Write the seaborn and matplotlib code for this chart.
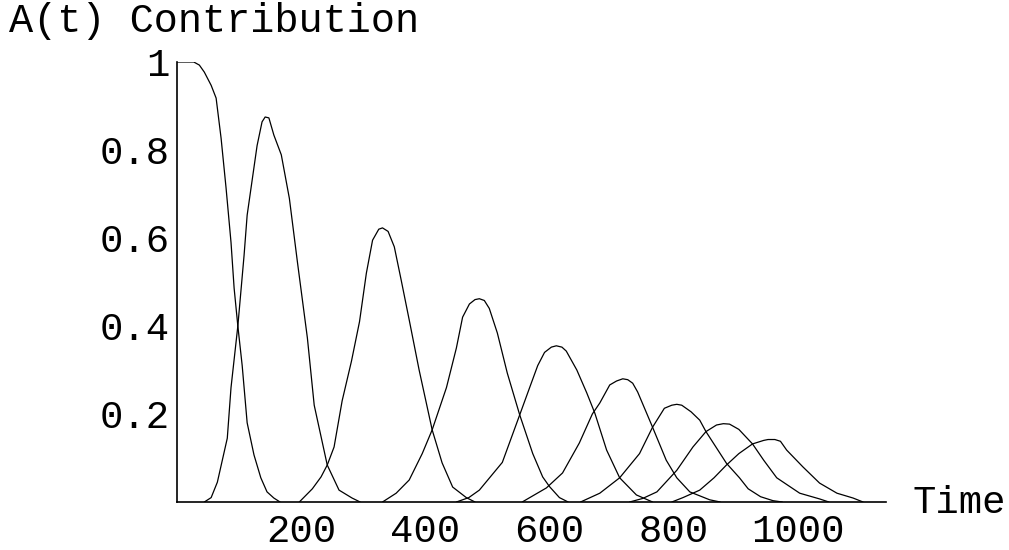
import matplotlib
matplotlib.use("Agg")
import matplotlib.pyplot as plt
import seaborn as sns
import pandas as pd
from matplotlib.ticker import FixedLocator, MultipleLocator

# ---- data ----
c1_t = [0, 27, 36, 44, 55, 63, 71, 79, 87, 92, 98, 105, 113, 124, 135, 145, 156, 166]
c1_v = [1.0, 1.0, 0.993, 0.977, 0.947, 0.918, 0.827, 0.714, 0.59, 0.486, 0.40, 0.31, 0.18, 0.107, 0.055, 0.023, 0.009, 0.0]

c2_t = [44, 55, 65, 81, 87, 98, 108, 113, 129, 137, 142, 148, 156, 168, 181, 194, 210, 221, 242, 261, 282, 295]
c2_v = [0.0, 0.01, 0.045, 0.145, 0.26, 0.40, 0.56, 0.652, 0.81, 0.864, 0.875, 0.873, 0.834, 0.789, 0.69, 0.545, 0.373, 0.22, 0.084, 0.027, 0.009, 0.0]

c3_t = [197, 218, 232, 242, 253, 266, 281, 294, 305, 315, 325, 331, 340, 350, 361, 374, 390, 411, 427, 444, 466, 480]
c3_v = [0.0, 0.03, 0.057, 0.084, 0.125, 0.23, 0.32, 0.41, 0.52, 0.595, 0.62, 0.623, 0.615, 0.58, 0.505, 0.414, 0.30, 0.164, 0.089, 0.034, 0.01, 0.0]

c4_t = [331, 353, 374, 395, 411, 434, 450, 460, 471, 480, 487, 495, 503, 516, 532, 552, 573, 589, 600, 616, 630]
c4_v = [0.0, 0.02, 0.05, 0.11, 0.164, 0.26, 0.35, 0.42, 0.45, 0.46, 0.462, 0.458, 0.44, 0.384, 0.293, 0.198, 0.11, 0.057, 0.035, 0.01, 0.0]

c5_t = [450, 470, 487, 524, 552, 568, 581, 592, 603, 611, 620, 627, 644, 660, 673, 692, 713, 740, 766]
c5_v = [0.0, 0.01, 0.027, 0.09, 0.198, 0.26, 0.31, 0.34, 0.352, 0.355, 0.352, 0.343, 0.30, 0.248, 0.202, 0.118, 0.055, 0.016, 0.0]

c6_t = [556, 595, 621, 648, 669, 681, 697, 708, 718, 726, 734, 742, 766, 788, 805, 826, 858, 875]
c6_v = [0.0, 0.032, 0.066, 0.134, 0.20, 0.225, 0.266, 0.275, 0.28, 0.278, 0.27, 0.25, 0.17, 0.095, 0.055, 0.023, 0.005, 0.0]

c7_t = [650, 681, 713, 745, 766, 785, 797, 805, 813, 828, 842, 852, 885, 906, 920, 940, 960, 975]
c7_v = [0.0, 0.02, 0.055, 0.11, 0.17, 0.213, 0.22, 0.222, 0.22, 0.205, 0.186, 0.16, 0.088, 0.055, 0.03, 0.012, 0.003, 0.0]

c8_t = [729, 750, 773, 805, 831, 852, 869, 880, 890, 905, 927, 945, 966, 1003, 1035, 1050]
c8_v = [0.0, 0.008, 0.023, 0.072, 0.125, 0.16, 0.175, 0.178, 0.177, 0.165, 0.132, 0.095, 0.055, 0.02, 0.007, 0.0]

c9_t = [797, 815, 842, 865, 885, 905, 927, 945, 952, 963, 972, 982, 1008, 1035, 1063, 1089, 1105]
c9_v = [0.0, 0.01, 0.027, 0.055, 0.084, 0.11, 0.132, 0.14, 0.142, 0.142, 0.138, 0.118, 0.08, 0.043, 0.02, 0.009, 0.0]

x_ticks = [200, 400, 600, 800, 1000]
x_tick_labels = ["200", "400", "600", "800", "1000"]
y_ticks = [0.2, 0.4, 0.6, 0.8, 1.0]
y_tick_labels = ["0.2", "0.4", "0.6", "0.8", "1"]
y_title = "A(t) Contribution"
x_title = "Time"

curves = [(c1_t, c1_v), (c2_t, c2_v), (c3_t, c3_v), (c4_t, c4_v), (c5_t, c5_v),
          (c6_t, c6_v), (c7_t, c7_v), (c8_t, c8_v), (c9_t, c9_v)]
rows = []
for i, (ts, vs) in enumerate(curves):
    for t, v in zip(ts, vs):
        rows.append({"t": t, "v": v, "curve": i})
df = pd.DataFrame(rows)

sns.set_style("white")
plt.rcParams["font.family"] = ["Liberation Mono", "DejaVu Sans"]
FS = 28

fig = plt.figure(figsize=(10.09, 5.5), dpi=100)
W, H = 1009, 550
ax = fig.add_axes([177 / W, 1 - 502 / H, (886 - 177) / W, (502 - 62) / H])

sns.lineplot(data=df, x="t", y="v", units="curve", estimator=None, sort=False,
             color="black", linewidth=0.9, ax=ax, legend=False)

ax.set_xlim(0, 1142)
ax.set_ylim(0, 1.0)
ax.set_xlabel("")
ax.set_ylabel("")

for s in ["top", "right"]:
    ax.spines[s].set_visible(False)
for s in ["left", "bottom"]:
    ax.spines[s].set_color("black")
    ax.spines[s].set_linewidth(1.2)

ax.xaxis.set_major_locator(FixedLocator(x_ticks))
ax.set_xticklabels(x_tick_labels)
ax.xaxis.set_minor_locator(MultipleLocator(50))
ax.yaxis.set_major_locator(FixedLocator(y_ticks))
ax.set_yticklabels(y_tick_labels)
ax.yaxis.set_minor_locator(MultipleLocator(0.05))

ax.tick_params(axis="both", which="major", direction="in", length=5.5, width=0.8,
               colors="black", labelsize=FS)
ax.tick_params(axis="both", which="minor", direction="in", length=3.2, width=0.7,
               colors="black")
ax.tick_params(axis="x", which="major", pad=8.5)
ax.tick_params(axis="y", which="major", pad=5)
ax.set_facecolor("white")
fig.patch.set_facecolor("white")

fig.text(9 / W, 1 - 32 / H, y_title, fontsize=29, ha="left", va="baseline", color="black")
fig.text(912 / W, 1 - 513 / H, x_title, fontsize=FS, ha="left", va="baseline", color="black")

fig.savefig("out.png", dpi=100, facecolor="white")
